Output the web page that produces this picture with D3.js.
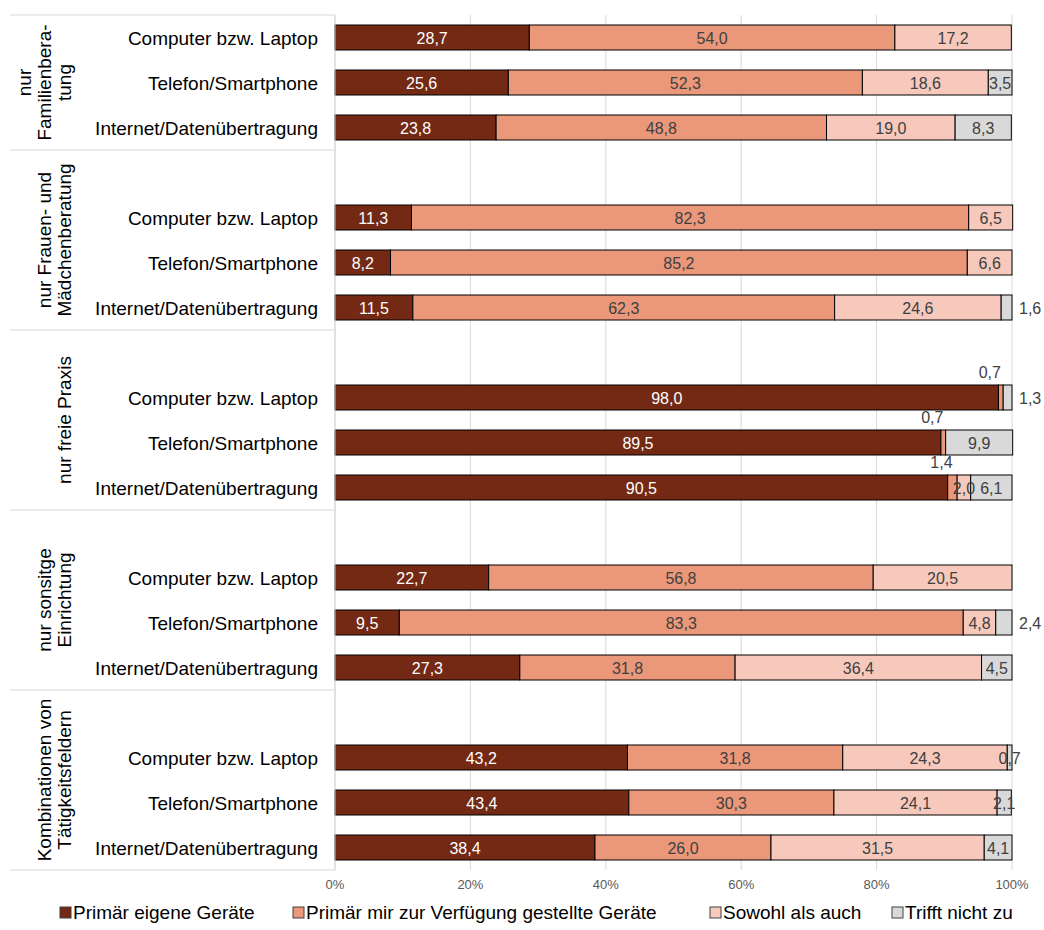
<!DOCTYPE html>
<html><head><meta charset="utf-8">
<script src="https://cdn.jsdelivr.net/npm/d3@7"></script>
<style>
body{margin:0;background:#fff;}
svg{display:block;font-family:"Liberation Sans",Arial,sans-serif;}
</style></head>
<body><svg id="c" width="1044" height="930"></svg>
<script>
const groups = [
  ["nur", "Familienbera-", "tung"],
  ["nur Frauen- und", "Mädchenberatung"],
  ["nur freie Praxis"],
  ["nur sonsitge", "Einrichtung"],
  ["Kombinationen von", "Tätigkeitsfeldern"]
];
const devices = ["Computer bzw. Laptop", "Telefon/Smartphone", "Internet/Datenübertragung"];
const seriesNames = ["Primär eigene Geräte", "Primär mir zur Verfügung gestellte Geräte", "Sowohl als auch", "Trifft nicht zu"];
// values per row (group-major, device-minor)
const eigene     = [28.7, 25.6, 23.8, 11.3,  8.2, 11.5, 98.0, 89.5, 90.5, 22.7,  9.5, 27.3, 43.2, 43.4, 38.4];
const gestellt   = [54.0, 52.3, 48.8, 82.3, 85.2, 62.3,  0.7,  0.7,  1.4, 56.8, 83.3, 31.8, 31.8, 30.3, 26.0];
const sowohl     = [17.2, 18.6, 19.0,  6.5,  6.6, 24.6,  0,    0,    2.0, 20.5,  4.8, 36.4, 24.3, 24.1, 31.5];
const trifft     = [ 0,    3.5,  8.3,  0,    0,    1.6,  1.3,  9.9,  6.1,  0,    2.4,  4.5,  0.7,  2.1,  4.1];
const ticks = [0, 20, 40, 60, 80, 100];
// label placement exceptions: "row-series": "right" | "above"
const labelPlacement = {"5-3":"right","6-1":"above","6-3":"right","7-1":"above","8-1":"above","10-3":"right"};

const colors = ["#732913", "#EA977A", "#F6C9BC", "#D9D9D9"];
const textColors = ["#ffffff", "#404040", "#404040", "#404040"];
const seriesVals = [eigene, gestellt, sowohl, trifft];

const svg = d3.select("#c");
const x0 = 335, x1 = 1012, yTop = 15, yBot = 870;

// build slot keys: spacer before each group except the first
const slots = [];
const rows = [];
groups.forEach((g, gi) => {
  if (gi > 0) slots.push("sp" + gi);
  devices.forEach((d, di) => { const k = gi + "-" + di; slots.push(k); rows.push({key: k, g: gi, d: di, idx: gi*3+di}); });
});

const x = d3.scaleLinear().domain([0, 100]).range([x0, x1]);
const y = d3.scaleBand().domain(slots).range([yTop, yBot]).paddingInner(20/45).paddingOuter(10/45);
const step = y.step();

// gridlines
svg.append("g").selectAll("line").data(ticks).join("line")
  .attr("x1", d => x(d)).attr("x2", d => x(d)).attr("y1", yTop).attr("y2", yBot)
  .attr("stroke", "#d9d9d9").attr("stroke-width", 1);

// group separators (left)
const sepY = [yTop];
groups.forEach((g, gi) => { if (gi > 0) sepY.push(y("sp" + gi)  - (step - y.bandwidth())/2); });
sepY.push(yBot);
svg.append("g").selectAll("line").data(sepY).join("line")
  .attr("x1", 10).attr("x2", x0).attr("y1", d => d).attr("y2", d => d)
  .attr("stroke", "#d9d9d9").attr("stroke-width", 1);

// tick labels
svg.append("g").selectAll("text").data(ticks).join("text")
  .attr("x", d => x(d)).attr("y", 889).attr("text-anchor", "middle")
  .attr("font-size", 13).attr("fill", "#595959")
  .text(d => d + "%");

// stacked segments
const segs = [];
rows.forEach(r => {
  let cum = 0;
  seriesVals.forEach((arr, si) => {
    const v = arr[r.idx];
    if (v > 0) segs.push({row: r, si, v, start: cum, end: cum + v});
    cum += v;
  });
});

svg.append("g").selectAll("rect").data(segs).join("rect")
  .attr("x", d => x(d.start)).attr("width", d => x(d.end) - x(d.start))
  .attr("y", d => y(d.row.key)).attr("height", y.bandwidth())
  .attr("fill", d => colors[d.si]).attr("stroke", "#000").attr("stroke-width", 1);

// axis line
svg.append("line").attr("x1", x0).attr("x2", x0).attr("y1", yTop).attr("y2", yBot)
  .attr("stroke", "#d9d9d9");

// data labels
const fmt = v => v.toFixed(1).replace(".", ",");
svg.append("g").selectAll("text").data(segs).join("text")
  .each(function(d) {
    const p = labelPlacement[d.row.idx + "-" + d.si];
    const cy = y(d.row.key) + y.bandwidth()/2;
    const t = d3.select(this);
    if (p === "right") {
      t.attr("x", x(100) + 7).attr("y", cy + 6).attr("text-anchor", "start").attr("fill", "#404040");
    } else if (p === "above") {
      t.attr("x", x((d.start + d.end)/2) - 11).attr("y", y(d.row.key) - 7).attr("text-anchor", "middle").attr("fill", "#404040");
    } else {
      t.attr("x", x((d.start + d.end)/2)).attr("y", cy + 6).attr("text-anchor", "middle").attr("fill", textColors[d.si]);
    }
  })
  .attr("font-size", 16)
  .text(d => fmt(d.v));

// category labels
svg.append("g").selectAll("text").data(rows).join("text")
  .attr("x", 318).attr("y", d => y(d.key) + y.bandwidth()/2 + 7)
  .attr("text-anchor", "end").attr("font-size", 19).attr("fill", "#000")
  .text(d => devices[d.d]);

// group labels (rotated)
groups.forEach((lines, gi) => {
  const top = sepY[gi], bot = sepY[gi+1];
  const cy = (top + bot) / 2;
  const n = lines.length;
  lines.forEach((ln, li) => {
    const cx = 71 - (n - 1 - li) * 20;
    svg.append("text")
      .attr("transform", `translate(${cx},${cy}) rotate(-90)`)
      .attr("text-anchor", "middle").attr("font-size", 19).attr("fill", "#000")
      .text(ln);
  });
});

// legend
const legX = [60, 293, 710, 892];
const leg = svg.append("g").selectAll("g").data(seriesNames).join("g")
  .attr("transform", (d, i) => `translate(${legX[i]},919)`);
leg.append("rect").attr("x", 0).attr("y", -12).attr("width", 11).attr("height", 11)
  .attr("fill", (d, i) => colors[i]).attr("stroke", "#404040").attr("stroke-width", 1);
leg.append("text").attr("x", 13).attr("y", 0).attr("font-size", 19).attr("fill", "#000").text(d => d);
</script></body></html>
